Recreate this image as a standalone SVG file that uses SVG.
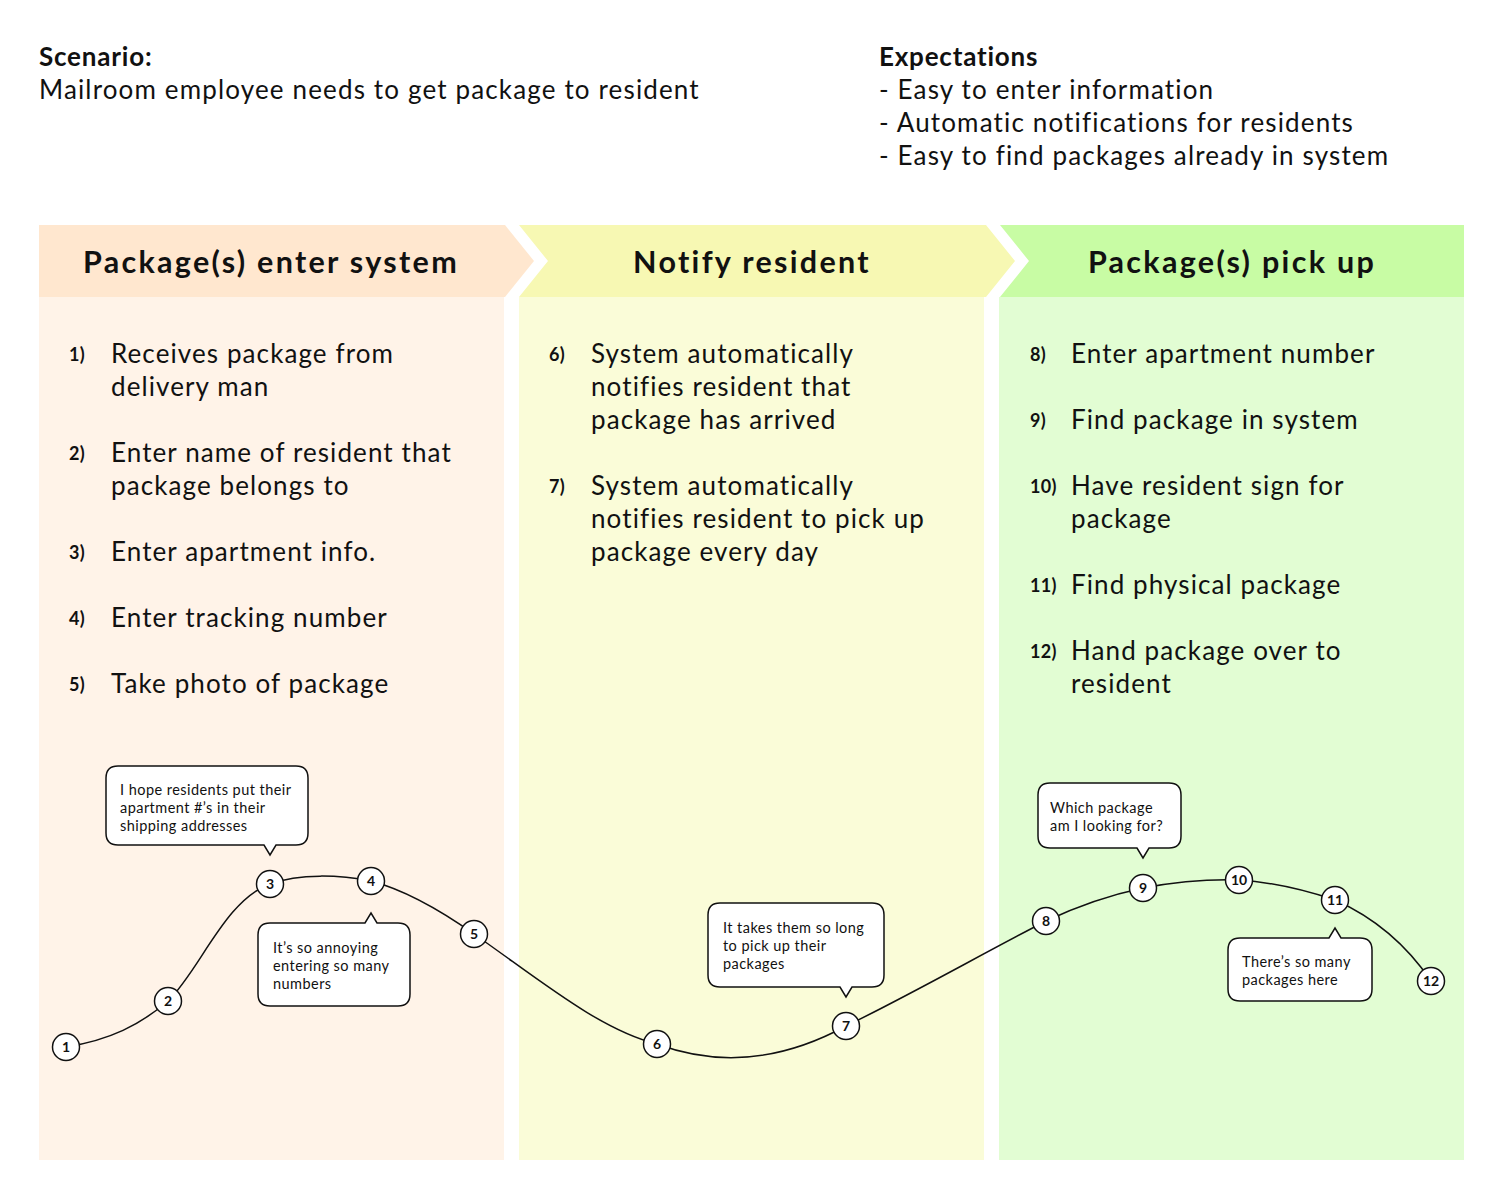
<svg xmlns="http://www.w3.org/2000/svg" width="1500" height="1200" viewBox="0 0 1500 1200">
<style>
text{font-family:Lato,"Noto Sans","Liberation Sans",sans-serif;fill:#111}
.top{font-size:26px;letter-spacing:1.15px}
.topb{font-size:26px;font-weight:bold;letter-spacing:0.8px}
.hdr{font-size:30.5px;font-weight:bold;text-anchor:middle;letter-spacing:2.3px}
.item{font-size:26px;letter-spacing:1.1px}
.num{font-size:18px;font-weight:bold;letter-spacing:0.3px}
.bub rect,.bub path{fill:#fff;stroke:#111;stroke-width:1.5}
.bub text{font-size:14.5px;letter-spacing:0.45px}
.node circle{fill:#fff;stroke:#111;stroke-width:1.5}
.node text{font-size:14px;font-weight:bold;text-anchor:middle}
.curve{fill:none;stroke:#111;stroke-width:1.5}
</style>
<rect width="1500" height="1200" fill="#fff"/>
<g id="scenario">
<text class="topb" x="39" y="66">Scenario:</text>
<text class="top" x="39" y="99">Mailroom employee needs to get package to resident</text>
</g>
<g id="expectations">
<text class="topb" x="879" y="66">Expectations</text>
<text class="top" x="879" y="99">- Easy to enter information</text>
<text class="top" x="879" y="132">- Automatic notifications for residents</text>
<text class="top" x="879" y="165">- Easy to find packages already in system</text>
</g>
<g id="col1">
<rect x="39" y="297" width="465" height="863" fill="#FFF3E8"/>
<polygon points="39,225 505,225 534,261 505,297 39,297" fill="#FFE7CF"/>
<text class="hdr" x="271" y="273">Package(s) enter system</text>
<text class="num" x="69" y="361">1)</text>
<text class="item" x="111" y="363">Receives package from</text>
<text class="item" x="111" y="396">delivery man</text>
<text class="num" x="69" y="460">2)</text>
<text class="item" x="111" y="462">Enter name of resident that</text>
<text class="item" x="111" y="495">package belongs to</text>
<text class="num" x="69" y="559">3)</text>
<text class="item" x="111" y="561">Enter apartment info.</text>
<text class="num" x="69" y="625">4)</text>
<text class="item" x="111" y="627">Enter tracking number</text>
<text class="num" x="69" y="691">5)</text>
<text class="item" x="111" y="693">Take photo of package</text>
</g>
<g id="col2">
<rect x="519" y="297" width="465" height="863" fill="#FAFCD8"/>
<polygon points="519,225 986,225 1015,261 986,297 519,297 548,261" fill="#F7F8B3"/>
<text class="hdr" x="752" y="273">Notify resident</text>
<text class="num" x="549" y="361">6)</text>
<text class="item" x="591" y="363">System automatically</text>
<text class="item" x="591" y="396">notifies resident that</text>
<text class="item" x="591" y="429">package has arrived</text>
<text class="num" x="549" y="493">7)</text>
<text class="item" x="591" y="495">System automatically</text>
<text class="item" x="591" y="528">notifies resident to pick up</text>
<text class="item" x="591" y="561">package every day</text>
</g>
<g id="col3">
<rect x="999" y="297" width="465" height="863" fill="#E2FDD3"/>
<polygon points="1000,225 1464,225 1464,297 1000,297 1029,261" fill="#C8FCA4"/>
<text class="hdr" x="1232" y="273">Package(s) pick up</text>
<text class="num" x="1030" y="361">8)</text>
<text class="item" x="1071" y="363">Enter apartment number</text>
<text class="num" x="1030" y="427">9)</text>
<text class="item" x="1071" y="429">Find package in system</text>
<text class="num" x="1030" y="493">10)</text>
<text class="item" x="1071" y="495">Have resident sign for</text>
<text class="item" x="1071" y="528">package</text>
<text class="num" x="1030" y="592">11)</text>
<text class="item" x="1071" y="594">Find physical package</text>
<text class="num" x="1030" y="658">12)</text>
<text class="item" x="1071" y="660">Hand package over to</text>
<text class="item" x="1071" y="693">resident</text>
</g>
<g id="connectors">
<path class="curve" d="M66,1047 C110,1040 140,1025 168,1001 C200,970 225,900 270,884 C300,873 340,875 371,881 C405,890 440,910 474,934 C540,980 600,1030 657,1044 C700,1060 765,1070 846,1026 C910,995 980,955 1046,921 C1080,905 1110,895 1143,888 C1175,882 1205,879 1239,880 C1270,882 1305,890 1335,900 C1380,920 1410,950 1431,981"/>
</g>
<g id="bubble1" class="bub">
<path d="M118,766 H296 Q308,766 308,778 V833 Q308,845 296,845 H276 L270,855 L264,845 H118 Q106,845 106,833 V778 Q106,766 118,766 Z"/>
<text x="120" y="795">I hope residents put their</text>
<text x="120" y="813">apartment #’s in their</text>
<text x="120" y="831">shipping addresses</text>
</g>
<g id="bubble2" class="bub">
<path d="M270,923 H365 L371,913 L377,923 H398 Q410,923 410,935 V994 Q410,1006 398,1006 H270 Q258,1006 258,994 V935 Q258,923 270,923 Z"/>
<text x="273" y="953">It’s so annoying</text>
<text x="273" y="971">entering so many</text>
<text x="273" y="989">numbers</text>
</g>
<g id="bubble3" class="bub">
<path d="M720,903 H872 Q884,903 884,915 V975 Q884,987 872,987 H852 L846,997 L840,987 H720 Q708,987 708,975 V915 Q708,903 720,903 Z"/>
<text x="723" y="933">It takes them so long</text>
<text x="723" y="951">to pick up their</text>
<text x="723" y="969">packages</text>
</g>
<g id="bubble4" class="bub">
<path d="M1050,783 H1169 Q1181,783 1181,795 V836 Q1181,848 1169,848 H1149 L1143,858 L1137,848 H1050 Q1038,848 1038,836 V795 Q1038,783 1050,783 Z"/>
<text x="1050" y="813">Which package</text>
<text x="1050" y="831">am I looking for?</text>
</g>
<g id="bubble5" class="bub">
<path d="M1240,938 H1329 L1335,928 L1341,938 H1360 Q1372,938 1372,950 V989 Q1372,1001 1360,1001 H1240 Q1228,1001 1228,989 V950 Q1228,938 1240,938 Z"/>
<text x="1242" y="967">There’s so many</text>
<text x="1242" y="985">packages here</text>
</g>
<g id="n1" class="node"><circle cx="66" cy="1047" r="13.5"/><text x="66" y="1052">1</text></g>
<g id="n2" class="node"><circle cx="168" cy="1001" r="13.5"/><text x="168" y="1006">2</text></g>
<g id="n3" class="node"><circle cx="270" cy="884" r="13.5"/><text x="270" y="889">3</text></g>
<g id="n4" class="node"><circle cx="371" cy="881" r="13.5"/><text x="371" y="886">4</text></g>
<g id="n5" class="node"><circle cx="474" cy="934" r="13.5"/><text x="474" y="939">5</text></g>
<g id="n6" class="node"><circle cx="657" cy="1044" r="13.5"/><text x="657" y="1049">6</text></g>
<g id="n7" class="node"><circle cx="846" cy="1026" r="13.5"/><text x="846" y="1031">7</text></g>
<g id="n8" class="node"><circle cx="1046" cy="921" r="13.5"/><text x="1046" y="926">8</text></g>
<g id="n9" class="node"><circle cx="1143" cy="888" r="13.5"/><text x="1143" y="893">9</text></g>
<g id="n10" class="node"><circle cx="1239" cy="880" r="13.5"/><text x="1239" y="885">10</text></g>
<g id="n11" class="node"><circle cx="1335" cy="900" r="13.5"/><text x="1335" y="905">11</text></g>
<g id="n12" class="node"><circle cx="1431" cy="981" r="13.5"/><text x="1431" y="986">12</text></g>
</svg>
